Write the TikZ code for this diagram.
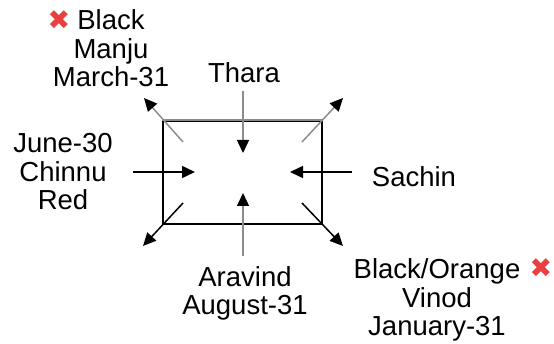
\documentclass[tikz,border=0pt]{standalone}
\usepackage{fontspec}
\setmainfont{Liberation Sans}
\newfontfamily\symfont{DejaVu Sans}
\usetikzlibrary{arrows.meta}
\definecolor{xred}{RGB}{232,64,64}
\definecolor{lgray}{RGB}{140,140,140}
\tikzset{
  lbl/.style={inner sep=0pt, align=center, anchor=base, font=\fontsize{27.5}{28.5}\selectfont},
  xmark/.style={inner sep=0pt, anchor=base, text=xred, font=\symfont\fontsize{27}{27}\selectfont},
  arr/.style={line width=1.5pt, -{Triangle[length=13pt,width=12pt,color=black]}},
  boxst/.style={draw, line width=1.5pt, minimum width=159pt, minimum height=103pt, inner sep=0pt}
}
\begin{document}
\begin{tikzpicture}[x=1pt,y=-1pt]
\useasboundingbox (0,0) rectangle (554,344);
% box
\node[boxst] (box) at (242.5,172.5) {};
\draw[lgray, line width=1.5pt] (box.north west) -- (box.north east);
% labels
\node[lbl] (manju) at (111,87) {Black\\Manju\\March-31};
\node[xmark] (x1) at (59,30) {✖};
\node[lbl] (thara) at (244,83) {Thara};
\node[lbl] (chinnu) at (63,210) {June-30\\Chinnu\\Red};
\node[lbl] (sachin) at (414,187) {Sachin};
\node[lbl] (aravind) at (245,315) {Aravind\\August-31};
\node[lbl] (vinod) at (437,336) {Black/Orange\\Vinod\\January-31};
\node[xmark] (x2) at (541,278) {✖};
% coordinates
\coordinate (tlS) at (183,142); \coordinate (tlE) at (144,98);
\coordinate (trS) at (302,142); \coordinate (trE) at (343,98);
\coordinate (blS) at (183,203); \coordinate (blE) at (143,246);
\coordinate (brS) at (302,203); \coordinate (brE) at (343,246);
\coordinate (tS) at (243,91); \coordinate (tE) at (243,153);
\coordinate (bS) at (243,256); \coordinate (bE) at (243,193);
\coordinate (lS) at (133,172); \coordinate (lE) at (195,172);
\coordinate (rS) at (352,172); \coordinate (rE) at (290,172);
% arrows
\draw[arr, lgray] (tlS) -- (tlE);
\draw[arr, lgray] (trS) -- (trE);
\draw[arr] (blS) -- (blE);
\draw[arr] (brS) -- (brE);
\draw[arr, lgray] (tS) -- (tE);
\draw[arr, lgray] (bS) -- (bE);
\draw[arr] (lS) -- (lE);
\draw[arr] (rS) -- (rE);
\end{tikzpicture}
\end{document}
